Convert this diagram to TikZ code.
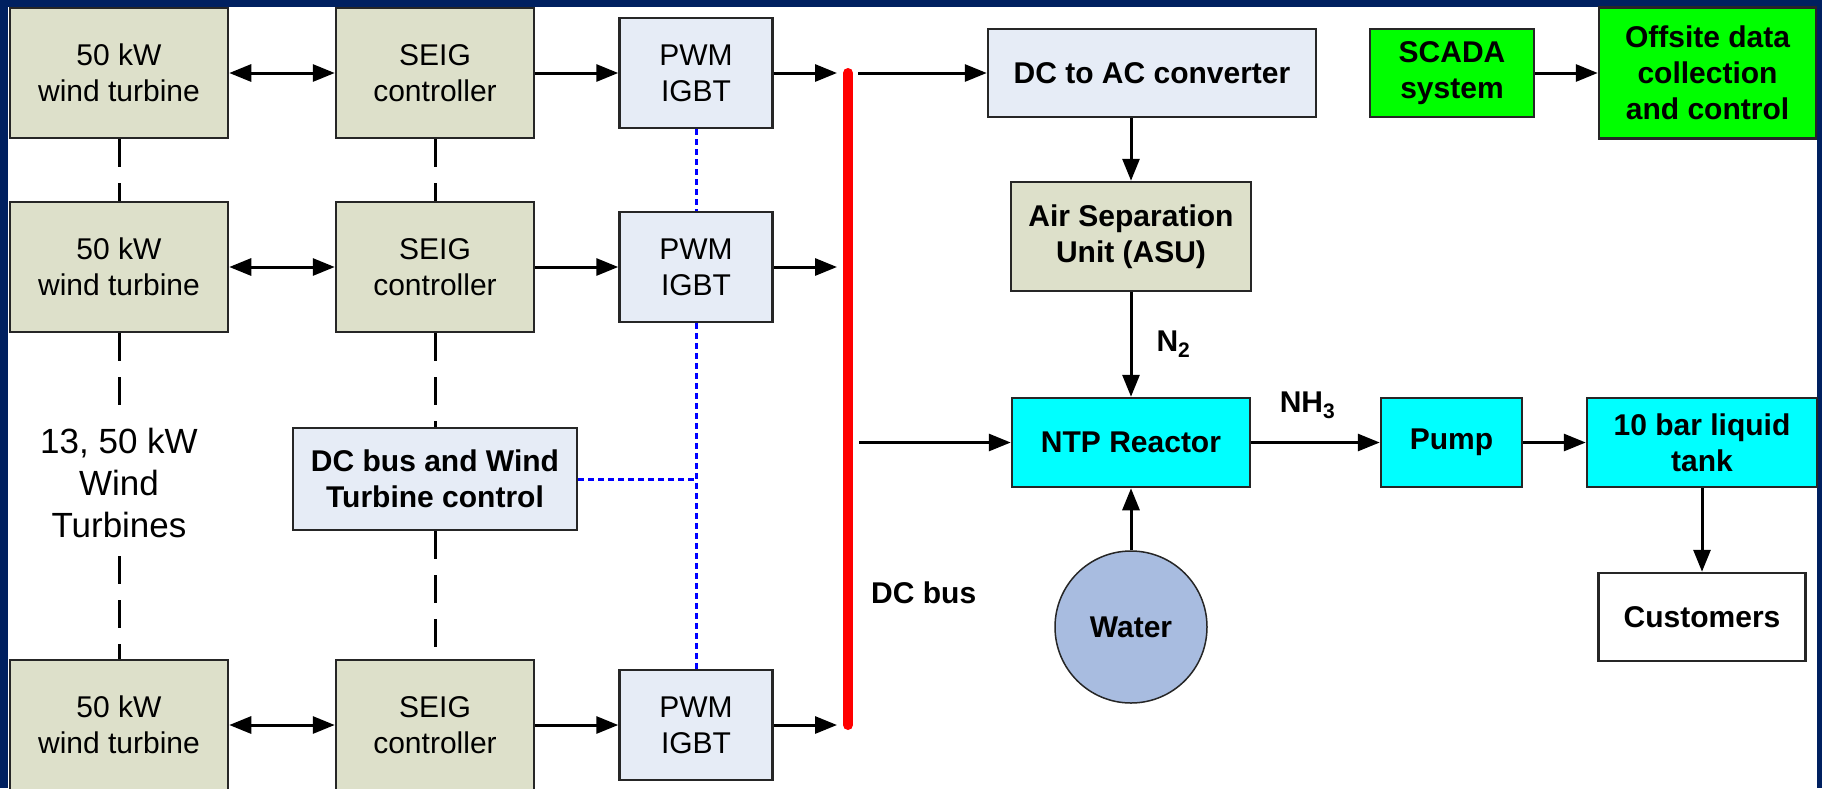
\documentclass[tikz,border=0pt]{standalone}
\usepackage{fontspec}
\setmainfont{Liberation Sans}
\usetikzlibrary{arrows.meta}
\definecolor{navy}{RGB}{0,32,96}
\definecolor{turbgrey}{RGB}{221,224,202}
\definecolor{paleblue}{RGB}{230,236,246}
\definecolor{waterblue}{RGB}{168,188,224}
\definecolor{plantcyan}{RGB}{0,255,255}
\definecolor{scadagreen}{RGB}{0,255,0}
\begin{document}
\begin{tikzpicture}[x=1pt, y=-1pt,
  box/.style={draw=black!85, line width=2.5pt, align=center, inner sep=0pt,
    font=\fontsize{30}{36}\selectfont},
  bbox/.style={box, font=\fontsize{30}{36}\selectfont\bfseries},
  lbl/.style={font=\fontsize{30}{36}\selectfont\bfseries, inner sep=0pt},
  arr/.style={line width=3pt, -{Triangle[length=22pt,width=17pt]}},
  darr/.style={line width=3pt, {Triangle[length=22pt,width=17pt]}-{Triangle[length=22pt,width=17pt]}},
  link/.style={line width=3pt, dash pattern=on 28pt off 16pt},
  ctrl/.style={blue, line width=3pt, dash pattern=on 6pt off 4pt}]
  \clip (0,0) rectangle (1822,788);
  \fill[navy] (0,0) rectangle (1822,788);
  \fill[white] (8,7) rectangle (1817,800);
  \coordinate (busT) at (848,73); \coordinate (busB) at (848,725);
  \draw[red, line width=10pt, line cap=round] (busT) -- (busB);
  \node[lbl, anchor=west] (buslbl) at (871,593) {DC bus};
  % turbine strings
  \foreach \r/\y in {1/73, 2/267, 3/725} {
    \node[box, fill=turbgrey, minimum width=218pt, minimum height=130pt] (wt\r) at (119,\y) {50 kW\\wind turbine};
    \node[box, fill=turbgrey, minimum width=198pt, minimum height=130pt] (seig\r) at (435,\y) {SEIG\\controller};
    \node[box, fill=paleblue, minimum width=153pt, minimum height=110pt] (pwm\r) at (696,\y) {PWM\\IGBT};
    \draw[darr] (wt\r) -- (seig\r);
    \draw[arr] (seig\r) -- (pwm\r);
    \draw[arr, shorten >=11pt] (pwm\r) -- (pwm\r -| busT);
  }
  \node[align=center, inner xsep=0pt, inner ysep=18pt, font=\fontsize{35}{42}\selectfont] (tb) at (119,483) {13, 50 kW\\Wind\\Turbines};
  \node[bbox, fill=paleblue, minimum width=284pt, minimum height=102pt] (dcctrl) at (435,479) {DC bus and Wind\\Turbine control};
  \draw[link] (wt1) -- (wt2) (wt2) -- (tb) (tb) -- (wt3);
  \draw[link] (seig1) -- (seig2) (seig2) -- (dcctrl) (dcctrl) -- (seig3);
  \draw[ctrl] (pwm1) -- (pwm2) (pwm2) -- (pwm3) (dcctrl) -- (dcctrl -| pwm2);
  % ammonia plant
  \node[bbox, fill=paleblue, minimum width=328pt, minimum height=88pt] (dcac) at (1152,73) {DC to AC converter};
  \node[bbox, fill=turbgrey, minimum width=240pt, minimum height=109pt] (asu) at (1131,236.5) {Air Separation\\Unit (ASU)};
  \node[bbox, fill=plantcyan, minimum width=238pt, minimum height=89pt] (ntp) at (1131,442.5) {NTP Reactor};
  \node[bbox, fill=plantcyan, minimum width=141pt, minimum height=89pt] (pump) at (1451.5,442.5) {Pump};
  \node[bbox, fill=plantcyan, minimum width=230pt, minimum height=89pt] (tank) at (1702,442.5) {10 bar liquid\\tank};
  \node[bbox, fill=white, minimum width=207pt, minimum height=88pt] (cust) at (1702,617) {Customers};
  \node[bbox, circle, line width=1.5pt, fill=waterblue, minimum size=152pt] (water) at (1131,627) {Water};
  \node[bbox, fill=scadagreen, minimum width=164pt, minimum height=88pt] (scada) at (1452,73) {SCADA\\system};
  \node[bbox, fill=scadagreen, minimum width=217pt, minimum height=131pt] (offsite) at (1707.5,73) {Offsite data\\collection\\and control};
  \draw[arr, shorten <=10pt] (dcac.west -| busT) -- (dcac);
  \draw[arr, shorten <=11pt] (ntp.west -| busT) -- (ntp);
  \draw[arr] (dcac.south -| asu) -- (asu);
  \draw[arr] (asu) -- node[lbl, right=24pt] {N\textsubscript{2}} (ntp);
  \draw[arr] (water) -- (ntp);
  \draw[arr] (ntp) -- node[lbl, above=22pt, xshift=-8pt] {NH\textsubscript{3}} (pump);
  \draw[arr] (pump) -- (tank);
  \draw[arr] (tank) -- (cust);
  \draw[arr] (scada) -- (offsite);
\end{tikzpicture}
\end{document}
